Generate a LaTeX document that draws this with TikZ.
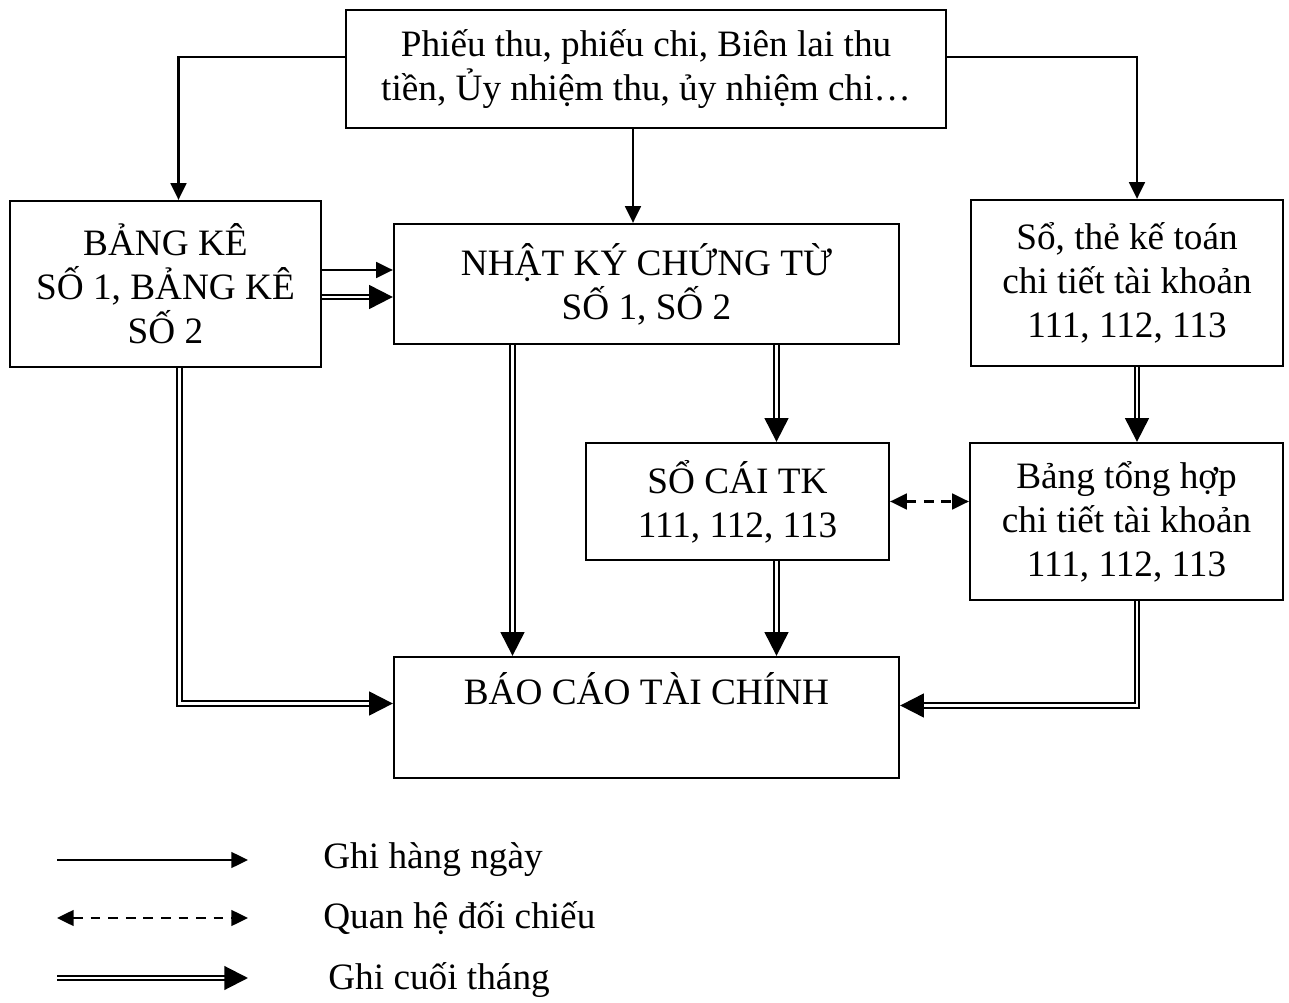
\documentclass[tikz,border=0pt]{standalone}
\usepackage{fontspec}
\setmainfont{Liberation Serif}
\usetikzlibrary{arrows.meta,calc}

\begin{document}
\begin{tikzpicture}
[
	x=0.02cm,y=-0.02cm,
	font=\fontsize{21.2}{25}\selectfont,
	box/.style={draw,line width=1.3pt,align=center,inner sep=0pt},
	daily/.style={line width=1.2pt,-{Triangle[length=9.5pt,width=9pt]}},
	compare/.style={line width=1.2pt,dash pattern=on 5.5pt off 4.5pt,{Triangle[length=9.5pt,width=9pt]}-{Triangle[length=9.5pt,width=9pt]}},
	monthly/.style={double,line width=1.2pt,double distance=1.4pt,-{Triangle[length=13.5pt,width=13.5pt]}},
	legtext/.style={anchor=west,inner sep=0pt}
]

	\useasboundingbox (0,0) rectangle (1289,1003);

	% boxes
	\node[box,minimum width=600*0.02cm,minimum height=118*0.02cm] (chungtu) at (646,69)
		{Phiếu thu, phiếu chi, Biên lai thu\\ tiền, Ủy nhiệm thu, ủy nhiệm chi…};
	\node[box,minimum width=311*0.02cm,minimum height=166*0.02cm] (bangke) at (165.5,284)
		{BẢNG KÊ\\ SỐ 1, BẢNG KÊ\\ SỐ 2};
	\node[box,minimum width=505*0.02cm,minimum height=120*0.02cm] (nhatky) at (646.5,284)
		{NHẬT KÝ CHỨNG TỪ\\ SỐ 1, SỐ 2};
	\node[box,minimum width=312*0.02cm,minimum height=166*0.02cm] (sothe) at (1127,283)
		{Sổ, thẻ kế toán\\ chi tiết tài khoản\\ 111, 112, 113};
	\node[box,minimum width=303*0.02cm,minimum height=117*0.02cm] (socai) at (737.5,501.5)
		{SỔ CÁI TK\\ 111, 112, 113};
	\node[box,minimum width=313*0.02cm,minimum height=157*0.02cm] (tonghop) at (1126.5,521.5)
		{Bảng tổng hợp\\ chi tiết tài khoản\\ 111, 112, 113};
	\node[box,minimum width=505*0.02cm,minimum height=121*0.02cm] (baocao) at (646.5,717.5)
		{BÁO CÁO TÀI CHÍNH\\ \strut};

	% daily
	\draw[daily] ($(chungtu.west)+(0,-12)$) -| ($(bangke.north)+(13,0)$);
	\draw[daily] ($(chungtu.east)+(0,-12)$) -| ($(sothe.north)+(10,0)$);
	\draw[daily] ($(chungtu.south)+(-13,0)$) coordinate (m1) -- (m1 |- nhatky.north);
	\draw[daily] ($(bangke.east)+(0,-14)$) -- ($(nhatky.west)+(0,-14)$);

	% end of month
	\draw[monthly] ($(bangke.east)+(0,13)$) -- ($(nhatky.west)+(0,13)$);
	\draw[monthly] ($(bangke.south)+(14,0)$) |- ($(baocao.west)+(0,-14)$);
	\draw[monthly] ($(nhatky.south)+(-134,0)$) -- ($(baocao.north)+(-134,0)$);
	\draw[monthly] ($(nhatky.south)+(130,0)$) coordinate (n1) -- (n1 |- socai.north);
	\draw[monthly] (n1 |- socai.south) -- (n1 |- baocao.north);
	\draw[monthly] ($(sothe.south)+(10,0)$) coordinate (r1) -- (r1 |- tonghop.north);
	\draw[monthly] (r1 |- tonghop.south) |- ($(baocao.east)+(0,-12)$);

	% compare
	\draw[compare] (socai.east) -- (socai.east -| tonghop.west);

	% legend
	\coordinate (la) at (57,860);
	\coordinate (lb) at (248,860);
	\coordinate (lc) at (57,918);
	\coordinate (ld) at (248,918);
	\coordinate (le) at (57,978);
	\coordinate (lf) at (248,978);
	\draw[daily] (la) -- (lb);
	\draw[compare] (lc) -- (ld);
	\draw[monthly] (le) -- (lf);
	\node[legtext] (ghi) at (323,860) {Ghi hàng ngày};
	\node[legtext] (doichieu) at (323,918) {Quan hệ đối chiếu};
	\node[legtext] (cuoithang) at (328,980) {Ghi cuối tháng};

\end{tikzpicture}
\end{document}
